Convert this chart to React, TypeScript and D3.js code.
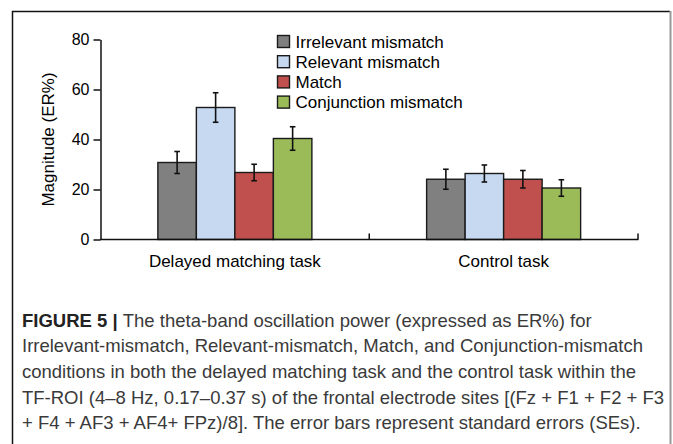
import * as d3 from 'd3';
import React, { useEffect, useRef } from 'react';

const tasks = ['Delayed matching task', 'Control task'];
const conditions = ['Irrelevant mismatch', 'Relevant mismatch', 'Match', 'Conjunction mismatch'];
const colors = ['#808080', '#c6d9f1', '#c0504d', '#9bbb59'];

// ER% means and standard errors
const delayedMeans = [30.8, 52.8, 26.8, 40.4];
const delayedSE = [4.4, 5.9, 3.3, 4.7];
const controlMeans = [24.1, 26.4, 24.1, 20.6];
const controlSE = [4.0, 3.4, 3.5, 3.3];

const yTicks = [0, 20, 40, 60, 80];

const captionLines = [
  'The theta-band oscillation power (expressed as ER%) for',
  'Irrelevant-mismatch, Relevant-mismatch, Match, and Conjunction-mismatch',
  'conditions in both the delayed matching task and the control task within the',
  'TF-ROI (4\u20138 Hz, 0.17\u20130.37 s) of the frontal electrode sites [(Fz + F1 + F2 + F3',
  '+ F4 + AF3 + AF4+ FPz)/8]. The error bars represent standard errors (SEs).',
];

const width = 673,
  height = 444;

export default function App() {
  const ref = useRef<SVGSVGElement>(null);

  useEffect(() => {
    const svg = d3.select(ref.current);
    svg.selectAll('*').remove();
    drawChart(svg);
  }, []);

  function drawChart(svg: any) {
    const font = 'Liberation Sans, Arial, sans-serif';

    // frame
    svg.append('path')
      .attr('d', 'M12.5,444V11.5H670')
      .attr('fill', 'none')
      .attr('stroke', '#111')
      .attr('stroke-width', 1.5);
    svg.append('line')
      .attr('x1', 670.5).attr('x2', 670.5)
      .attr('y1', 11).attr('y2', 444)
      .attr('stroke', '#999')
      .attr('stroke-width', 2);

    const x0 = d3.scaleBand().domain(tasks).range([100.5, 638]).padding(0);
    const x1 = d3.scaleBand().domain(conditions).range([0, x0.bandwidth()])
      .paddingInner(0).paddingOuter(1.49);
    const y = d3.scaleLinear().domain([0, 80]).range([239.5, 39.5]);

    const data = [
      { task: tasks[0], means: delayedMeans, se: delayedSE },
      { task: tasks[1], means: controlMeans, se: controlSE },
    ];

    const groups = svg.selectAll('g.group')
      .data(data)
      .enter()
      .append('g')
      .attr('class', 'group')
      .attr('transform', (d: any) => 'translate(' + x0(d.task) + ',0)');

    const bars = groups.selectAll('g.bar')
      .data((d: any) => conditions.map((c, i) => ({ c, i, m: d.means[i], se: d.se[i] })))
      .enter()
      .append('g')
      .attr('class', 'bar');

    bars.append('rect')
      .attr('x', (d: any) => x1(d.c))
      .attr('y', (d: any) => y(d.m))
      .attr('width', x1.bandwidth())
      .attr('height', (d: any) => y(0) - y(d.m))
      .attr('fill', (d: any) => colors[d.i])
      .attr('stroke', '#1a1a1a')
      .attr('stroke-width', 1.4);

    const cx = (d: any) => (x1(d.c) as number) + x1.bandwidth() / 2;
    bars.append('line')
      .attr('x1', cx).attr('x2', cx)
      .attr('y1', (d: any) => y(d.m - d.se))
      .attr('y2', (d: any) => y(d.m + d.se))
      .attr('stroke', '#111').attr('stroke-width', 1.6);
    [1, -1].forEach((s) => {
      bars.append('line')
        .attr('x1', (d: any) => cx(d) - 2.8)
        .attr('x2', (d: any) => cx(d) + 2.8)
        .attr('y1', (d: any) => y(d.m + s * d.se))
        .attr('y2', (d: any) => y(d.m + s * d.se))
        .attr('stroke', '#111').attr('stroke-width', 1.6);
    });

    // y axis
    const yAxis = svg.append('g')
      .attr('transform', 'translate(100.5,0)')
      .call(d3.axisLeft(y).tickValues(yTicks).tickSize(7).tickSizeOuter(0).tickPadding(4));
    yAxis.select('.domain').attr('stroke', '#111').attr('stroke-width', 1.5);
    yAxis.selectAll('.tick line').attr('stroke', '#111').attr('stroke-width', 1.5);
    yAxis.selectAll('.tick text')
      .attr('font-family', font)
      .attr('font-size', 16)
      .attr('fill', '#000');

    // x axis line with upward band-edge ticks
    svg.append('line')
      .attr('x1', 100).attr('x2', 638.5)
      .attr('y1', y(0)).attr('y2', y(0))
      .attr('stroke', '#111').attr('stroke-width', 1.5);
    svg.selectAll('line.xtick')
      .data(tasks)
      .enter()
      .append('line')
      .attr('class', 'xtick')
      .attr('x1', (d: string) => (x0(d) as number) + x0.bandwidth())
      .attr('x2', (d: string) => (x0(d) as number) + x0.bandwidth())
      .attr('y1', y(0))
      .attr('y2', y(0) - 6)
      .attr('stroke', '#111').attr('stroke-width', 1.5);

    svg.selectAll('text.xlabel')
      .data(tasks)
      .enter()
      .append('text')
      .attr('class', 'xlabel')
      .attr('x', (d: string) => (x0(d) as number) + x0.bandwidth() / 2)
      .attr('y', 267)
      .attr('text-anchor', 'middle')
      .attr('font-family', font)
      .attr('font-size', 17)
      .text((d: string) => d);

    svg.append('text')
      .attr('transform', 'translate(54,139.5) rotate(-90)')
      .attr('text-anchor', 'middle')
      .attr('font-family', font)
      .attr('font-size', 17)
      .text('Magnitude (ER%)');

    // legend
    const legend = svg.selectAll('g.legend')
      .data(conditions)
      .enter()
      .append('g')
      .attr('class', 'legend')
      .attr('transform', (d: string, i: number) => 'translate(277.5,' + (41.5 + i * 20.2) + ')');
    legend.append('rect')
      .attr('x', 0).attr('y', -6)
      .attr('width', 12).attr('height', 12)
      .attr('fill', (d: string, i: number) => colors[i])
      .attr('stroke', '#1a1a1a').attr('stroke-width', 1.4);
    legend.append('text')
      .attr('x', 18)
      .attr('y', 6)
      .attr('font-family', font)
      .attr('font-size', 17)
      .text((d: string) => d);

    // caption
    const cap = svg.append('text')
      .attr('font-family', font)
      .attr('font-size', 18.5)
      .attr('fill', '#3a3a3a');
    captionLines.forEach((line, i) => {
      const t = cap.append('tspan')
        .attr('x', 22)
        .attr('y', 326.5 + i * 25.7);
      if (i === 0) {
        t.append('tspan').attr('font-weight', 'bold').attr('fill', '#222').text('FIGURE 5 | ');
        t.append('tspan').text(line);
      } else {
        t.text(line);
      }
    });
  }

  return (
    <svg
      ref={ref}
      width={width}
      height={height}
      style={{ position: 'absolute', left: 0, top: 0, background: '#fff' }}
    />
  );
}
